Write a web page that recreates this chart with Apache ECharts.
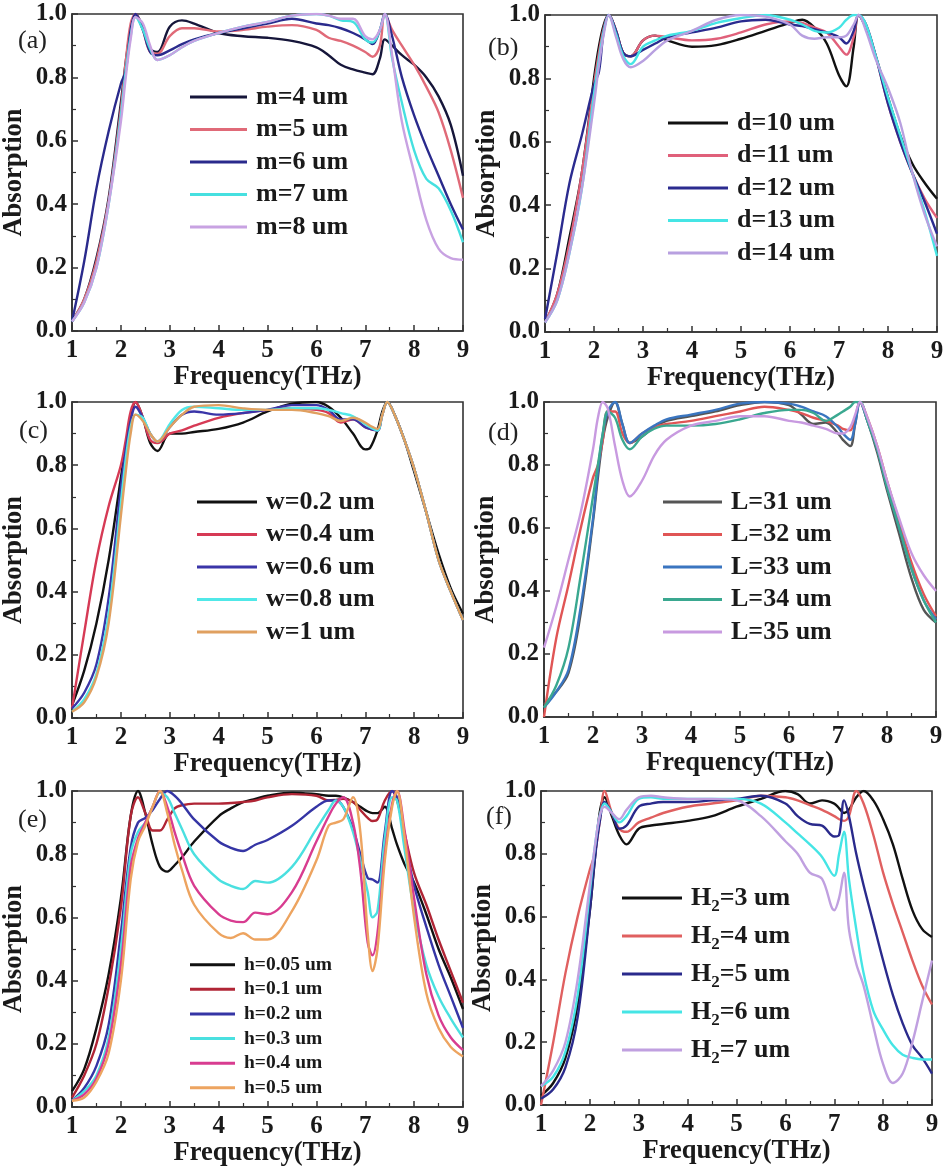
<!DOCTYPE html>
<html>
<head>
<meta charset="utf-8">
<script src="https://cdn.jsdelivr.net/npm/echarts@6/dist/echarts.min.js"></script>
<style>
  html, body { margin: 0; padding: 0; background: #fff; }
  #chart { width: 949px; height: 1174px; }
</style>
</head>
<body>
<div id="chart"></div>
<script>
// (a) m sweep
const freqA = [1, 1.25, 1.5, 1.75, 2, 2.1, 2.2, 2.3, 2.45, 2.6, 2.75, 3, 3.25, 3.5, 4, 4.5, 5, 5.5, 6, 6.25, 6.5, 6.75, 7, 7.15, 7.3, 7.4, 7.55, 7.75, 8, 8.25, 8.5, 8.75, 9]
const namesA = ['m=4 um', 'm=5 um', 'm=6 um', 'm=7 um', 'm=8 um']
const m4 = [0.03, 0.10, 0.23, 0.42, 0.72, 0.85, 0.95, 1.00, 0.96, 0.89, 0.88, 0.96, 0.98, 0.97, 0.94, 0.93, 0.925, 0.915, 0.895, 0.87, 0.84, 0.825, 0.815, 0.81, 0.86, 0.92, 0.90, 0.87, 0.84, 0.80, 0.74, 0.65, 0.49]
const m5 = [0.03, 0.10, 0.22, 0.41, 0.70, 0.85, 0.97, 1.00, 0.95, 0.88, 0.875, 0.93, 0.955, 0.955, 0.945, 0.95, 0.96, 0.965, 0.95, 0.925, 0.915, 0.90, 0.88, 0.865, 0.90, 1.00, 0.95, 0.90, 0.84, 0.77, 0.69, 0.57, 0.42]
const m6 = [0.03, 0.22, 0.45, 0.63, 0.78, 0.82, 0.95, 1.00, 0.95, 0.88, 0.87, 0.885, 0.905, 0.92, 0.94, 0.955, 0.97, 0.985, 0.97, 0.965, 0.955, 0.94, 0.92, 0.905, 0.95, 1.00, 0.93, 0.80, 0.68, 0.58, 0.49, 0.40, 0.32]
const m7 = [0.03, 0.09, 0.20, 0.40, 0.68, 0.82, 0.93, 0.99, 0.95, 0.89, 0.855, 0.87, 0.895, 0.915, 0.94, 0.96, 0.975, 0.995, 1.00, 0.995, 0.98, 0.975, 0.92, 0.91, 0.95, 1.00, 0.86, 0.72, 0.57, 0.48, 0.45, 0.38, 0.28]
const m8 = [0.03, 0.09, 0.20, 0.40, 0.66, 0.80, 0.92, 0.99, 0.97, 0.90, 0.855, 0.87, 0.895, 0.915, 0.94, 0.96, 0.975, 0.995, 1.00, 0.995, 0.985, 0.985, 0.93, 0.92, 0.95, 1.00, 0.87, 0.66, 0.50, 0.35, 0.26, 0.23, 0.225]

// (b) d sweep
const freqB = freqA
const namesB = ['d=10 um', 'd=11 um', 'd=12 um', 'd=13 um', 'd=14 um']
const d10 = [0.03, 0.12, 0.30, 0.50, 0.80, 0.90, 0.97, 1.00, 0.95, 0.88, 0.87, 0.92, 0.935, 0.92, 0.90, 0.905, 0.925, 0.95, 0.975, 0.985, 0.96, 0.91, 0.81, 0.775, 0.90, 1.00, 0.96, 0.87, 0.74, 0.62, 0.53, 0.47, 0.42]
const d11 = [0.03, 0.12, 0.28, 0.50, 0.78, 0.88, 0.96, 1.00, 0.95, 0.88, 0.87, 0.92, 0.935, 0.93, 0.92, 0.925, 0.945, 0.97, 0.98, 0.975, 0.96, 0.945, 0.90, 0.875, 0.93, 1.00, 0.97, 0.87, 0.72, 0.60, 0.50, 0.42, 0.36]
const d12 = [0.04, 0.25, 0.47, 0.62, 0.78, 0.82, 0.95, 1.00, 0.95, 0.88, 0.87, 0.89, 0.91, 0.93, 0.945, 0.96, 0.98, 0.985, 0.97, 0.965, 0.955, 0.945, 0.93, 0.91, 0.95, 1.00, 0.97, 0.87, 0.72, 0.60, 0.50, 0.41, 0.31]
const d13 = [0.03, 0.10, 0.25, 0.45, 0.75, 0.86, 0.95, 1.00, 0.94, 0.87, 0.845, 0.90, 0.92, 0.935, 0.95, 0.975, 0.99, 1.00, 0.985, 0.97, 0.95, 0.945, 0.96, 0.985, 1.00, 1.00, 0.97, 0.87, 0.74, 0.62, 0.50, 0.38, 0.24]
const d14 = [0.03, 0.10, 0.25, 0.45, 0.72, 0.84, 0.94, 1.00, 0.93, 0.86, 0.835, 0.855, 0.89, 0.92, 0.95, 0.985, 1.00, 0.995, 0.97, 0.935, 0.925, 0.93, 0.93, 0.935, 0.97, 1.00, 0.95, 0.86, 0.77, 0.66, 0.50, 0.37, 0.27]

// (c) w sweep
const freqC = [1, 1.25, 1.5, 1.75, 2, 2.1, 2.2, 2.3, 2.45, 2.6, 2.75, 3, 3.25, 3.5, 4, 4.5, 5, 5.5, 6, 6.25, 6.5, 6.75, 7, 7.1, 7.25, 7.35, 7.45, 7.6, 7.8, 8, 8.25, 8.5, 8.75, 9]
const namesC = ['w=0.2 um', 'w=0.4 um', 'w=0.6 um', 'w=0.8 um', 'w=1 um']
const w02 = [0.04, 0.15, 0.30, 0.50, 0.76, 0.86, 0.95, 1.00, 0.95, 0.87, 0.845, 0.90, 0.90, 0.905, 0.915, 0.935, 0.97, 0.995, 1.00, 0.985, 0.95, 0.90, 0.85, 0.855, 0.91, 0.97, 1.00, 0.96, 0.88, 0.78, 0.65, 0.52, 0.41, 0.33]
const w04 = [0.03, 0.27, 0.50, 0.67, 0.80, 0.88, 0.97, 1.00, 0.95, 0.88, 0.87, 0.90, 0.91, 0.925, 0.95, 0.965, 0.975, 0.98, 0.975, 0.965, 0.935, 0.945, 0.92, 0.915, 0.91, 0.96, 1.00, 0.96, 0.88, 0.79, 0.65, 0.50, 0.40, 0.31]
const w06 = [0.03, 0.08, 0.17, 0.38, 0.73, 0.85, 0.94, 0.985, 0.95, 0.90, 0.875, 0.92, 0.96, 0.97, 0.96, 0.965, 0.975, 0.99, 0.99, 0.975, 0.945, 0.945, 0.92, 0.915, 0.91, 0.96, 1.00, 0.96, 0.88, 0.79, 0.65, 0.50, 0.40, 0.31]
const w08 = [0.02, 0.06, 0.14, 0.33, 0.68, 0.82, 0.92, 0.96, 0.95, 0.90, 0.875, 0.93, 0.975, 0.985, 0.98, 0.975, 0.975, 0.98, 0.98, 0.975, 0.965, 0.955, 0.93, 0.92, 0.91, 0.96, 1.00, 0.96, 0.88, 0.79, 0.65, 0.50, 0.40, 0.31]
const w10 = [0.02, 0.05, 0.13, 0.30, 0.64, 0.78, 0.90, 0.96, 0.94, 0.90, 0.875, 0.92, 0.96, 0.985, 0.99, 0.98, 0.975, 0.975, 0.965, 0.955, 0.94, 0.95, 0.935, 0.925, 0.915, 0.96, 1.00, 0.96, 0.88, 0.79, 0.65, 0.50, 0.40, 0.31]

// (d) L sweep
const freqD = freqC
const namesD = ['L=31 um', 'L=32 um', 'L=33 um', 'L=34 um', 'L=35 um']
const L31 = [0.04, 0.08, 0.14, 0.33, 0.62, 0.76, 0.88, 0.95, 1.00, 0.93, 0.87, 0.89, 0.92, 0.94, 0.955, 0.97, 0.99, 1.00, 0.99, 0.96, 0.93, 0.935, 0.90, 0.88, 0.86, 0.93, 1.00, 0.94, 0.84, 0.72, 0.58, 0.44, 0.34, 0.30]
const L32 = [0.00, 0.25, 0.42, 0.60, 0.76, 0.80, 0.88, 0.97, 0.97, 0.90, 0.87, 0.90, 0.92, 0.93, 0.94, 0.955, 0.97, 0.985, 0.975, 0.965, 0.95, 0.94, 0.925, 0.915, 0.91, 0.95, 1.00, 0.95, 0.86, 0.75, 0.62, 0.49, 0.39, 0.32]
const L33 = [0.03, 0.08, 0.15, 0.35, 0.63, 0.78, 0.90, 0.97, 1.00, 0.93, 0.87, 0.90, 0.925, 0.945, 0.96, 0.975, 0.995, 1.00, 0.995, 0.985, 0.97, 0.955, 0.92, 0.90, 0.88, 0.93, 1.00, 0.94, 0.85, 0.73, 0.60, 0.47, 0.37, 0.31]
const L34 = [0.03, 0.10, 0.22, 0.45, 0.70, 0.80, 0.90, 0.97, 0.95, 0.88, 0.85, 0.89, 0.915, 0.925, 0.925, 0.93, 0.945, 0.965, 0.975, 0.975, 0.965, 0.94, 0.96, 0.97, 0.985, 1.00, 1.00, 0.94, 0.85, 0.73, 0.60, 0.47, 0.37, 0.30]
const L35 = [0.22, 0.35, 0.50, 0.65, 0.85, 0.95, 1.00, 0.98, 0.86, 0.75, 0.70, 0.75, 0.83, 0.88, 0.925, 0.94, 0.955, 0.955, 0.94, 0.935, 0.925, 0.915, 0.90, 0.90, 0.92, 0.96, 1.00, 0.95, 0.86, 0.75, 0.63, 0.52, 0.45, 0.40]

// (e) h sweep
const freqE = [1, 1.25, 1.5, 1.75, 2, 2.2, 2.35, 2.5, 2.65, 2.8, 2.95, 3.1, 3.25, 3.5, 4, 4.25, 4.5, 4.75, 5, 5.5, 6, 6.25, 6.4, 6.55, 6.75, 6.9, 7.05, 7.15, 7.25, 7.4, 7.55, 7.65, 7.8, 8, 8.25, 8.5, 8.75, 9]
const namesE = ['h=0.05 um', 'h=0.1 um', 'h=0.2 um', 'h=0.3 um', 'h=0.4 um', 'h=0.5 um']
const h005 = [0.05, 0.12, 0.25, 0.42, 0.66, 0.92, 1.00, 0.93, 0.83, 0.76, 0.745, 0.765, 0.79, 0.84, 0.92, 0.945, 0.965, 0.975, 0.985, 0.995, 0.99, 0.985, 0.985, 0.98, 0.965, 0.95, 0.935, 0.93, 0.93, 0.95, 0.88, 0.83, 0.77, 0.71, 0.61, 0.50, 0.41, 0.31]
const h01 = [0.03, 0.10, 0.20, 0.38, 0.63, 0.92, 0.98, 0.93, 0.875, 0.875, 0.91, 0.945, 0.955, 0.96, 0.96, 0.962, 0.965, 0.97, 0.98, 0.99, 0.985, 0.97, 0.972, 0.975, 0.965, 0.94, 0.915, 0.905, 0.91, 0.97, 1.00, 0.97, 0.87, 0.74, 0.64, 0.53, 0.43, 0.33]
const h02 = [0.02, 0.06, 0.13, 0.26, 0.55, 0.82, 0.90, 0.915, 0.94, 0.975, 1.00, 0.985, 0.96, 0.91, 0.84, 0.82, 0.81, 0.83, 0.845, 0.89, 0.95, 0.97, 0.97, 0.95, 0.88, 0.80, 0.725, 0.72, 0.71, 0.87, 1.00, 0.98, 0.85, 0.70, 0.57, 0.45, 0.35, 0.25]
const h03 = [0.02, 0.05, 0.10, 0.22, 0.50, 0.80, 0.87, 0.90, 0.95, 0.995, 0.98, 0.93, 0.88, 0.80, 0.72, 0.70, 0.69, 0.715, 0.71, 0.76, 0.88, 0.94, 0.97, 0.95, 0.87, 0.78, 0.68, 0.60, 0.62, 0.85, 0.98, 0.97, 0.82, 0.62, 0.45, 0.35, 0.28, 0.22]
const h04 = [0.02, 0.04, 0.09, 0.20, 0.45, 0.76, 0.85, 0.90, 0.95, 1.00, 0.95, 0.87, 0.80, 0.70, 0.61, 0.59, 0.585, 0.615, 0.61, 0.68, 0.84, 0.92, 0.96, 0.98, 0.90, 0.75, 0.52, 0.48, 0.55, 0.80, 0.96, 1.00, 0.88, 0.66, 0.42, 0.29, 0.22, 0.18]
const h05 = [0.02, 0.03, 0.08, 0.17, 0.40, 0.72, 0.84, 0.89, 0.95, 1.00, 0.93, 0.83, 0.75, 0.64, 0.55, 0.535, 0.55, 0.53, 0.53, 0.62, 0.78, 0.89, 0.90, 0.91, 0.98, 0.87, 0.55, 0.43, 0.50, 0.78, 0.95, 1.00, 0.86, 0.60, 0.36, 0.25, 0.19, 0.16]

// (f) H2 sweep
const freqF = [1, 1.25, 1.5, 1.75, 2, 2.1, 2.2, 2.3, 2.45, 2.6, 2.75, 3, 3.25, 3.5, 4, 4.5, 5, 5.5, 6, 6.25, 6.5, 6.75, 7, 7.1, 7.2, 7.3, 7.45, 7.6, 7.8, 8, 8.2, 8.4, 8.6, 8.8, 9]
const namesF = ['H2=3 um', 'H2=4 um', 'H2=5 um', 'H2=6 um', 'H2=7 um']
const H3 = [0.03, 0.07, 0.15, 0.32, 0.62, 0.78, 0.93, 0.98, 0.92, 0.86, 0.83, 0.88, 0.89, 0.895, 0.905, 0.92, 0.95, 0.975, 1.00, 0.99, 0.96, 0.97, 0.96, 0.945, 0.93, 0.94, 0.98, 1.00, 0.97, 0.91, 0.83, 0.72, 0.62, 0.56, 0.535]
const H4 = [0.00, 0.20, 0.42, 0.60, 0.75, 0.80, 0.90, 1.00, 0.93, 0.88, 0.87, 0.90, 0.915, 0.93, 0.95, 0.96, 0.97, 0.985, 0.98, 0.97, 0.955, 0.94, 0.92, 0.91, 0.905, 0.92, 1.00, 0.96, 0.86, 0.74, 0.64, 0.55, 0.46, 0.38, 0.32]
const H5 = [0.02, 0.05, 0.12, 0.28, 0.62, 0.78, 0.90, 0.965, 0.93, 0.88, 0.89, 0.95, 0.96, 0.965, 0.965, 0.97, 0.975, 0.985, 0.96, 0.92, 0.895, 0.89, 0.855, 0.86, 0.97, 0.92, 0.80, 0.70, 0.58, 0.46, 0.35, 0.26, 0.19, 0.15, 0.10]
const H6 = [0.06, 0.09, 0.17, 0.35, 0.68, 0.82, 0.92, 0.96, 0.93, 0.90, 0.92, 0.975, 0.98, 0.975, 0.975, 0.975, 0.975, 0.96, 0.90, 0.865, 0.83, 0.79, 0.73, 0.80, 0.87, 0.72, 0.56, 0.42, 0.30, 0.24, 0.19, 0.16, 0.15, 0.145, 0.145]
const H7 = [0.06, 0.11, 0.20, 0.40, 0.70, 0.82, 0.92, 0.95, 0.93, 0.91, 0.94, 0.98, 0.985, 0.98, 0.975, 0.975, 0.97, 0.92, 0.84, 0.80, 0.74, 0.72, 0.62, 0.66, 0.74, 0.56, 0.45, 0.38, 0.25, 0.13, 0.07, 0.10, 0.20, 0.33, 0.46]

const FONT = '"Liberation Serif", "Times New Roman", serif'
const AXIS = '#333'

const panels = [
  { tag: '(a)', freq: freqA, names: namesA, values: [m4, m5, m6, m7, m8],
    colors: ['#16163a', '#e06a78', '#2a2a8c', '#46e0e0', '#c8a2e2'],
    grid: { left: 72, top: 14, width: 391, height: 317 }, tagPos: [33, 43],
    legend: { left: 185, top: 78, itemWidth: 57, gap: 32.5, size: 26 } },
  { tag: '(b)', freq: freqB, names: namesB, values: [d10, d11, d12, d13, d14],
    colors: ['#111111', '#e0607a', '#2b2b8f', '#45e5e5', '#b8a0e0'],
    grid: { left: 545, top: 15, width: 392, height: 317 }, tagPos: [503, 50],
    legend: { left: 663, top: 104, itemWidth: 60, gap: 32.5, size: 26 } },
  { tag: '(c)', freq: freqC, names: namesC, values: [w02, w04, w06, w08, w10],
    colors: ['#111111', '#d63a55', '#3a35a8', '#50e8e8', '#e0a060'],
    grid: { left: 72, top: 402, width: 391, height: 316 }, tagPos: [34, 433],
    legend: { left: 192, top: 483, itemWidth: 60, gap: 32.5, size: 26 } },
  { tag: '(d)', freq: freqD, names: namesD, values: [L31, L32, L33, L34, L35],
    colors: ['#555555', '#e05555', '#3a75c0', '#3aa890', '#c89ae0'],
    grid: { left: 544, top: 402, width: 392, height: 315 }, tagPos: [503, 435],
    legend: { left: 658, top: 483, itemWidth: 59, gap: 32.5, size: 26 } },
  { tag: '(e)', freq: freqE, names: namesE, values: [h005, h01, h02, h03, h04, h05],
    colors: ['#111111', '#b02535', '#3535a5', '#4ae0e0', '#d83c90', '#eda460'],
    grid: { left: 71, top: 791, width: 392, height: 316 }, tagPos: [33, 822],
    legend: { left: 185, top: 949, itemWidth: 45, gap: 24.6, size: 19.5 } },
  { tag: '(f)', freq: freqF, names: namesF, values: [H3, H4, H5, H6, H7],
    colors: ['#111111', '#e06060', '#2a2a8c', '#45e5e5', '#c0a0e0'],
    grid: { left: 541, top: 791, width: 391, height: 314 }, tagPos: [501, 819],
    legend: { left: 617, top: 876, itemWidth: 60, gap: 38, size: 26 } }
]

const labelStyle = { fontFamily: FONT, fontWeight: 'bold', color: '#1a1a1a' }

const grids = [], xAxes = [], yAxes = [], series = [], legends = [], graphics = []

panels.forEach((p, i) => {
  grids.push(Object.assign({ show: true, borderColor: AXIS, borderWidth: 1.6, containLabel: false }, p.grid))
  xAxes.push({
    type: 'value', gridIndex: i, min: 1, max: 9, interval: 1,
    axisLine: { lineStyle: { color: AXIS, width: 1.6 } },
    axisTick: { inside: true, length: 6, lineStyle: { color: AXIS, width: 1.5 } },
    minorTick: { show: true, splitNumber: 2, length: 4, lineStyle: { color: AXIS, width: 1.2 } },
    splitLine: { show: false },
    axisLabel: Object.assign({ fontSize: 25, margin: 7 }, labelStyle),
    name: 'Frequency(THz)', nameLocation: 'middle', nameGap: 32,
    nameTextStyle: Object.assign({ fontSize: 26.5 }, labelStyle)
  })
  yAxes.push({
    type: 'value', gridIndex: i, min: 0, max: 1, interval: 0.2,
    axisLine: { show: true, lineStyle: { color: AXIS, width: 1.6 } },
    axisTick: { show: true, inside: true, length: 6, lineStyle: { color: AXIS, width: 1.5 } },
    minorTick: { show: true, splitNumber: 2, length: 4, lineStyle: { color: AXIS, width: 1.2 } },
    splitLine: { show: false },
    axisLabel: Object.assign({ fontSize: 25, margin: 5, formatter: v => v.toFixed(1) }, labelStyle),
    name: 'Absorption', nameLocation: 'middle', nameGap: 44,
    nameTextStyle: Object.assign({ fontSize: 26.5 }, labelStyle)
  })
  p.names.forEach((name, k) => {
    series.push({
      type: 'line', name: name, xAxisIndex: i, yAxisIndex: i,
      data: p.freq.map((f, j) => [f, p.values[k][j]]),
      smooth: 0.35, symbol: 'none',
      color: p.colors[k],
      lineStyle: { width: 2.4, color: p.colors[k] }
    })
  })
  const lg = p.legend
  const isSub = p.tag === '(f)'
  legends.push({
    data: p.names, orient: 'vertical', left: lg.left, top: lg.top,
    icon: 'rect', itemWidth: lg.itemWidth, itemHeight: 3,
    itemGap: lg.gap - (isSub ? 34 : lg.size + 2),
    selectedMode: false,
    formatter: isSub ? (n => '{n|H}{s|2}{n|' + n.slice(2) + '}') : undefined,
    textStyle: Object.assign({ fontSize: lg.size, lineHeight: isSub ? 34 : lg.size + 2, padding: [0, 0, 0, 4],
      rich: isSub ? {
        n: Object.assign({ fontSize: lg.size, lineHeight: 34 }, labelStyle),
        s: Object.assign({ fontSize: 17, lineHeight: 17, verticalAlign: 'bottom' }, labelStyle)
      } : undefined }, labelStyle)
  })
  graphics.push({
    type: 'text', left: p.tagPos[0] - 15, top: p.tagPos[1] - 15,
    style: { text: p.tag, font: '26px ' + FONT, fill: '#222' }
  })
})

const chart = echarts.init(document.getElementById('chart'))
chart.setOption({
  backgroundColor: '#fff',
  animation: false,
  grid: grids,
  xAxis: xAxes,
  yAxis: yAxes,
  legend: legends,
  graphic: graphics,
  series: series
})
</script>
</body>
</html>
